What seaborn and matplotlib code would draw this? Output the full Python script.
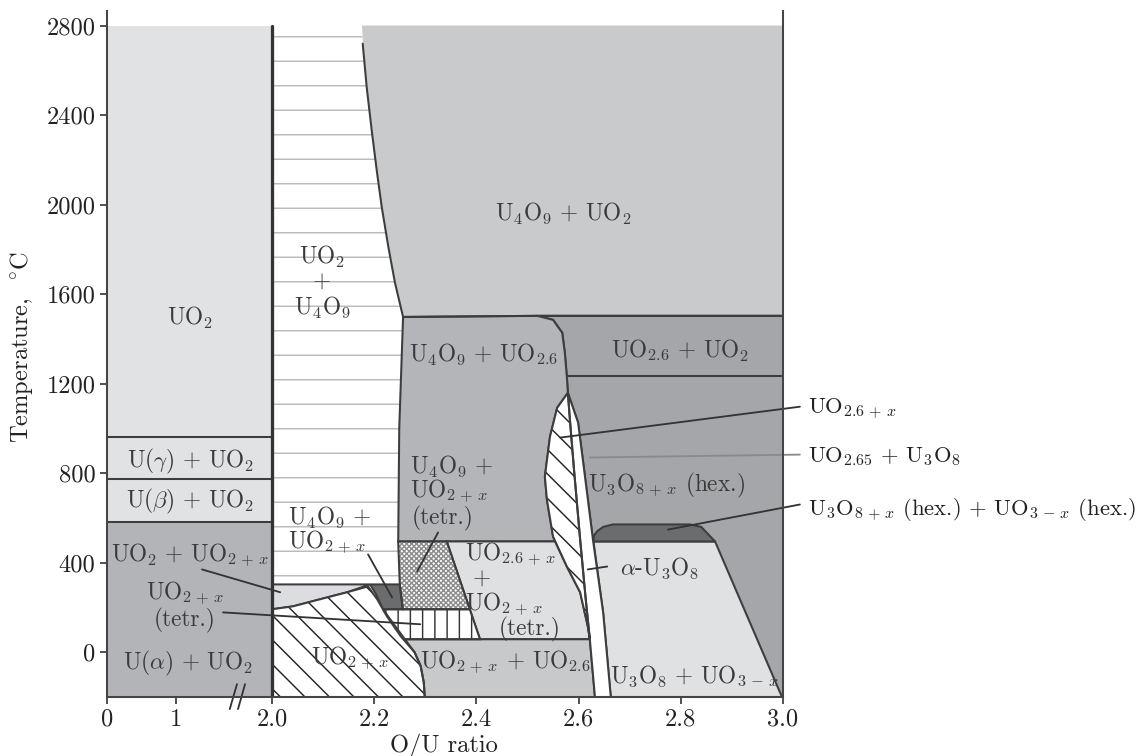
import numpy as np
import pandas as pd
import matplotlib
matplotlib.use("Agg")
import matplotlib.pyplot as plt
import seaborn as sns

# ------------------------------------------------------------------ data
# U + UO2 part of the diagram (O/U 0 ... 2.0): horizontal boundaries, deg C
LEFT_T = [-200, 580, 776, 963, 2800]
LEFT_FILL = ["#b3b4b7", "#e1e2e4", "#e1e2e4", "#e1e2e4"]

# UO2 + U4O9 solvus
SOLVUS_X = [2.1775, 2.1853, 2.1951, 2.2049, 2.2147, 2.2276, 2.2407, 2.2565]
SOLVUS_T = [2719, 2525, 2332, 2154, 1990, 1812, 1650, 1498]

# phase fields (O/U ratio, temperature)
UO2_U4O9_X = [2.0, 2.0, 2.176] + SOLVUS_X + [2.249, 2.247, 2.250]
UO2_U4O9_T = [303, 2800, 2800] + SOLVUS_T + [1000, 495, 303]

U4O9_UO2_X = [2.176, 3.0, 3.0] + SOLVUS_X[::-1]
U4O9_UO2_T = [2800, 2800, 1503] + SOLVUS_T[::-1]

U4O9_UO26_X = [2.2565, 2.519, 2.550, 2.568, 2.573, 2.577, 2.579, 2.558, 2.544, 2.534,
               2.538, 2.550, 2.554, 2.247, 2.249]
U4O9_UO26_T = [1498, 1503, 1485, 1427, 1338, 1231, 1159, 1092, 963, 785,
               682, 517, 495, 495, 1000]

U3O8_HEX_X = [2.519, 3.0, 3.0, 2.663, 2.648, 2.628, 2.609, 2.599, 2.579, 2.577, 2.573, 2.568, 2.550]
U3O8_HEX_T = [1503, 1503, -200, -200, 178, 504, 847, 1026, 1159, 1231, 1338, 1427, 1485]

ALPHA_U3O8_X = [2.629, 2.867, 2.998, 2.663, 2.648]
ALPHA_U3O8_T = [495, 495, -200, -200, 178]

HEX_UO3_X = [2.629, 2.630, 2.636, 2.648, 2.667, 2.818, 2.840, 2.867]
HEX_UO3_T = [495, 520, 540, 560, 571, 571, 560, 495]

UO26X_UO2X_X = [2.342, 2.554, 2.577, 2.603, 2.618, 2.622, 2.407]
UO26X_UO2X_T = [495, 495, 383, 268, 116, 58, 58]

U4O9_UO2X_TETR_X = [2.247, 2.342, 2.387, 2.256, 2.250]
U4O9_UO2X_TETR_T = [495, 495, 192, 192, 303]

UO2X_TETR_X = [2.217, 2.387, 2.407, 2.260, 2.250]
UO2X_TETR_T = [192, 192, 58, 58, 89]

U4O9_UO2X_X = [2.192, 2.250, 2.256, 2.217, 2.203]
U4O9_UO2X_T = [303, 303, 192, 192, 262]

UO2_UO2X_X = [2.0, 2.192, 2.147, 2.108, 2.041, 2.0]
UO2_UO2X_T = [303, 303, 268, 245, 205, 192]

UO2X_X = [2.0, 2.0, 2.041, 2.108, 2.147, 2.188, 2.206, 2.225, 2.252, 2.279, 2.291, 2.297, 2.299]
UO2X_T = [-200, 192, 205, 245, 268, 294, 236, 160, 71, 0, -62, -134, -200]

UO2X_UO26_X = [2.260, 2.622, 2.632, 2.299, 2.297, 2.291, 2.279]
UO2X_UO26_T = [58, 58, -200, -200, -134, -62, 0]

UO26X_X = [2.579, 2.558, 2.544, 2.534, 2.538, 2.550, 2.577, 2.603, 2.618, 2.622,
           2.614, 2.603, 2.591, 2.583]
UO26X_T = [1159, 1092, 963, 785, 682, 517, 383, 268, 116, 58,
           236, 504, 816, 1039]

UO265_X = [2.579, 2.583, 2.591, 2.603, 2.614, 2.622, 2.632, 2.663, 2.648, 2.628, 2.609, 2.599]
UO265_T = [1159, 1039, 816, 504, 236, 58, -200, -200, 178, 504, 847, 1026]

# extra boundary lines
LINE_1500_X = [2.2565, 2.519, 3.0]
LINE_1500_T = [1498, 1503, 1503]
LINE_1235_X = [2.577, 3.0]
LINE_1235_T = [1235, 1235]

# axis ticks
X_TICKS = [0, 1, 2.0, 2.2, 2.4, 2.6, 2.8, 3.0]
X_TICK_LABELS = ["0", "1", "2.0", "2.2", "2.4", "2.6", "2.8", "3.0"]
Y_TICKS = [0, 400, 800, 1200, 1600, 2000, 2400, 2800]
Y_TICK_LABELS = ["0", "400", "800", "1200", "1600", "2000", "2400", "2800"]

# axis break marks ("//") on the O/U axis
BREAK_X = [(1.560, 1.635), (1.646, 1.719)]
BREAK_T = (-254, -143)

# ------------------------------------------------------------------ style
DPI = 147
W, H = 1146, 756
EDGE = "#3d3d3d"
LW = 1.0

sns.set_theme(style="ticks")
plt.rcParams.update({
    "mathtext.fontset": "cm",
    "axes.formatter.use_mathtext": True,
    "hatch.linewidth": 0.7,
    "axes.edgecolor": "#454545",
    "axes.linewidth": 1.0,
    "xtick.color": "#454545",
    "ytick.color": "#454545",
    "xtick.labelcolor": "#222222",
    "ytick.labelcolor": "#222222",
    "xtick.major.size": 3.2,
    "ytick.major.size": 3.2,
    "xtick.major.width": 0.9,
    "ytick.major.width": 0.9,
    "xtick.major.pad": 2.5,
    "ytick.major.pad": 2.5,
})
plt.rcParams["font.family"] = ["cmr10", "DejaVu Serif"]

fig = plt.figure(figsize=(W / DPI, H / DPI), dpi=DPI)
ax = fig.add_axes([107 / W, 1 - 697 / H, 676 / W, 686 / H])


def fwd(x):
    x = np.asarray(x, dtype=float)
    return np.where(x < 1, x * 69.0, np.where(x < 2, 69 + (x - 1) * 96.0, 165 + (x - 2) * 511.0))


def inv(u):
    u = np.asarray(u, dtype=float)
    return np.where(u < 69, u / 69.0, np.where(u < 165, 1 + (u - 69) / 96.0, 2 + (u - 165) / 511.0))


ax.set_xscale("function", functions=(fwd, inv))
ax.set_xlim(0, 3.0)
ax.set_ylim(-200, 2865)

# ---- left (U + UO2) section as stacked bars
ax.bar(x=[1.0] * 4, height=np.diff(LEFT_T), bottom=LEFT_T[:-1], width=2.0,
       color=LEFT_FILL, linewidth=0, zorder=1)


def field(xs, ts, fc, edge=True, hatch=None, hatch_color=None):
    if hatch is not None:
        ax.fill(xs, ts, facecolor=fc, edgecolor=hatch_color, hatch=hatch, linewidth=0, zorder=2)
        if edge:
            ax.fill(xs, ts, facecolor="none", edgecolor=EDGE, linewidth=LW, zorder=3)
    else:
        ax.fill(xs, ts, facecolor=fc, edgecolor=EDGE if edge else "none",
                linewidth=LW if edge else 0, zorder=2)


field(U4O9_UO2_X, U4O9_UO2_T, "#c9cacc", edge=False)
field(UO2_U4O9_X, UO2_U4O9_T, "white", edge=False, hatch="-", hatch_color="#b9babc")
field(U3O8_HEX_X, U3O8_HEX_T, "#a5a6a9")
field(U4O9_UO26_X, U4O9_UO26_T, "#b4b5b8")
field(ALPHA_U3O8_X, ALPHA_U3O8_T, "#e0e1e3")
field(HEX_UO3_X, HEX_UO3_T, "#6b6c6e")
field(UO26X_UO2X_X, UO26X_UO2X_T, "#dfe0e2")
field(U4O9_UO2X_TETR_X, U4O9_UO2X_TETR_T, "white", hatch="x" * 10, hatch_color="#8c8c8c")
field(UO2X_TETR_X, UO2X_TETR_T, "white", hatch="||", hatch_color="#333333")
field(U4O9_UO2X_X, U4O9_UO2X_T, "#6b6c6e")
field(UO2_UO2X_X, UO2_UO2X_T, "#dcdde0")
field(UO2X_X, UO2X_T, "white", hatch="\\\\", hatch_color="#222222")
field(UO2X_UO26_X, UO2X_UO26_T, "#c8c9cb")
field(UO26X_X, UO26X_T, "white", hatch="\\\\", hatch_color="#222222")
field(UO265_X, UO265_T, "white")

# ---- boundary lines drawn with seaborn
segs = []
for name, xs, ts in [
    ("solvus", SOLVUS_X, SOLVUS_T),
    ("l1500", LINE_1500_X, LINE_1500_T),
    ("l1235", LINE_1235_X, LINE_1235_T),
    ("l580", [0, 2.0], [LEFT_T[1]] * 2),
    ("l776", [0, 2.0], [LEFT_T[2]] * 2),
    ("l963", [0, 2.0], [LEFT_T[3]] * 2),
]:
    for i, (xv, tv) in enumerate(zip(xs, ts)):
        segs.append({"seg": name, "order": i, "x": xv, "T": tv})
seg_df = pd.DataFrame(segs)
sns.lineplot(data=seg_df, x="x", y="T", units="seg", estimator=None, sort=False,
             color=EDGE, linewidth=LW, ax=ax, zorder=4, legend=False)
line20 = pd.DataFrame({"x": [2.0, 2.0], "T": [LEFT_T[0], LEFT_T[-1]]})
sns.lineplot(data=line20, x="x", y="T", sort=False, estimator=None, color="#333333",
             linewidth=1.6, ax=ax, zorder=4)

# ---- labels
FS = 11.4
FS_R = 11.1
txt = dict(fontsize=FS, color="#3a3a3a", zorder=6)


def label(x, t, s, ha="center", **kw):
    d = dict(txt)
    d.update(kw)
    ax.text(x, t, s, ha=ha, va="center", **d)


label(1.146, 1494, r"$\mathrm{UO_2}$")
label(1.146, 852, r"U($\gamma$) + $\mathrm{UO_2}$")
label(1.146, 673, r"U($\beta$) + $\mathrm{UO_2}$")
label(1.146, 432, r"$\mathrm{UO_2}$ + $\mathrm{UO}_{2\,+\,x}$")
label(1.094, 262, r"$\mathrm{UO}_{2\,+\,x}$")
label(1.094, 140, "(tetr.)")
label(1.125, -49, r"U($\alpha$) + $\mathrm{UO_2}$")

label(2.098, 1766, r"$\mathrm{UO_2}$")
label(2.098, 1650, "+")
label(2.098, 1543, r"$\mathrm{U_4O_9}$")
label(2.569, 1962, r"$\mathrm{U_4O_9}$ + $\mathrm{UO_2}$")
label(2.413, 1333, r"$\mathrm{U_4O_9}$ + $\mathrm{UO}_{2.6}$")
label(2.798, 1351, r"$\mathrm{UO}_{2.6}$ + $\mathrm{UO_2}$")
label(2.270, 829, r"$\mathrm{U_4O_9}$ +", ha="left")
label(2.270, 718, r"$\mathrm{UO}_{2\,+\,x}$", ha="left")
label(2.273, 597, "(tetr.)", ha="left")
label(2.031, 602, r"$\mathrm{U_4O_9}$ +", ha="left")
label(2.031, 490, r"$\mathrm{UO}_{2\,+\,x}$", ha="left")
label(2.378, 437, r"$\mathrm{UO}_{2.6\,+\,x}$", ha="left")
label(2.411, 326, "+")
label(2.378, 210, r"$\mathrm{UO}_{2\,+\,x}$", ha="left")
label(2.505, 103, "(tetr.)")
label(2.759, 375, r"$\alpha$-$\mathrm{U_3O_8}$")
label(2.771, 745, r"$\mathrm{U_3O}_{8\,+\,x}$ (hex.)")
label(2.456, -49, r"$\mathrm{UO}_{2\,+\,x}$ + $\mathrm{UO}_{2.6}$")
label(2.826, -107, r"$\mathrm{U_3O_8}$ + $\mathrm{UO}_{3\,-\,x}$")
label(2.153, -31, r"$\mathrm{UO}_{2\,+\,x}$")

# labels outside the plot on the right
ax.text(3.049, 1083, r"$\mathrm{UO}_{2.6\,+\,x}$", ha="left", va="center", fontsize=FS_R, color="#222222")
ax.text(3.049, 874, r"$\mathrm{UO}_{2.65}$ + $\mathrm{U_3O_8}$", ha="left", va="center", fontsize=FS_R, color="#222222")
ax.text(3.049, 638, r"$\mathrm{U_3O}_{8\,+\,x}$ (hex.) + $\mathrm{UO}_{3\,-\,x}$ (hex.)",
        ha="left", va="center", fontsize=FS_R, color="#222222")

# leader lines
LEADERS = [
    ((2.564, 959), (3.033, 1097), "#333333"),
    ((2.622, 870), (3.033, 883), "#8a8a8a"),
    ((2.775, 548), (3.033, 660), "#333333"),
    ((2.618, 370), (2.656, 383), "#333333"),
    ((2.235, 245), (2.188, 437), "#333333"),
    ((2.284, 361), (2.325, 535), "#333333"),
    ((2.016, 268), (1.271, 370), "#333333"),
    ((2.290, 125), (1.490, 178), "#333333"),
]
for (p0, p1, c) in LEADERS:
    ax.annotate("", xy=p0, xytext=p1, annotation_clip=False, zorder=7,
                arrowprops=dict(arrowstyle="-", color=c, lw=0.9, shrinkA=0, shrinkB=0))

# axis break marks
for xs in BREAK_X:
    ax.plot(xs, BREAK_T, color="#333333", lw=0.9, clip_on=False, zorder=8)

# ---- axes
ax.set_xticks(X_TICKS)
ax.set_xticklabels(X_TICK_LABELS, fontsize=12)
ax.set_yticks(Y_TICKS)
ax.set_yticklabels(Y_TICK_LABELS, fontsize=12)
ax.set_xlabel("O/U ratio", fontsize=12, color="#222222")
ax.set_ylabel(r"Temperature,  $^{\circ}$C", fontsize=12, color="#222222")
ax.xaxis.set_label_coords(0.4985, -0.053)
ax.yaxis.set_label_coords(-0.106, 0.51)
for s in ("left", "bottom", "right"):
    ax.spines[s].set_visible(True)
    ax.spines[s].set_zorder(9)
ax.spines["top"].set_visible(False)
ax.grid(False)
ax.set_facecolor("white")

fig.savefig("out.png", dpi=DPI, facecolor="white")
